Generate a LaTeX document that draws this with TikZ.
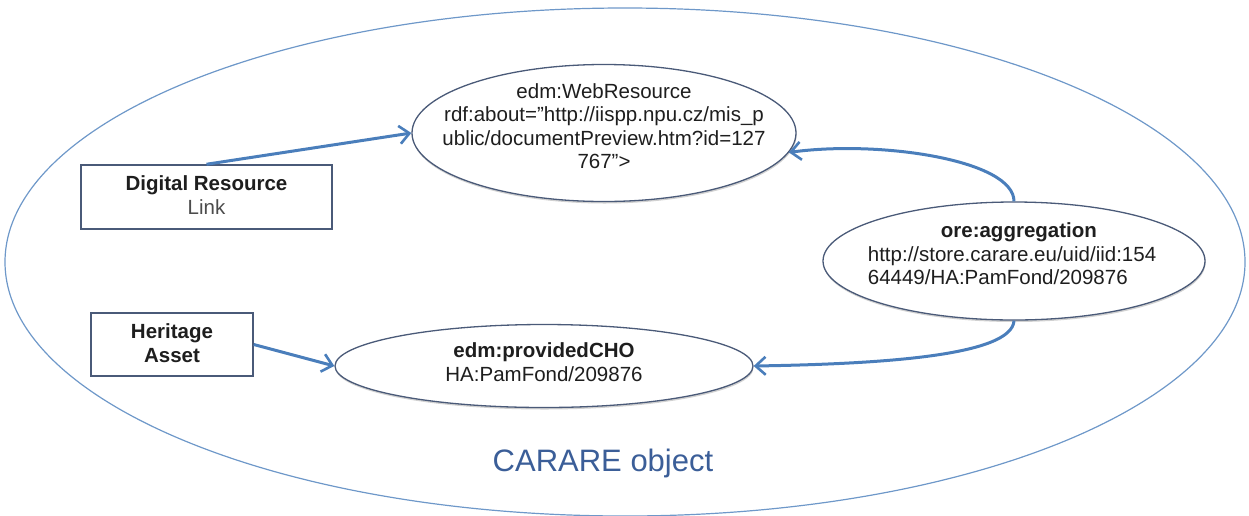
\documentclass[tikz,border=0pt]{standalone}
\usepackage{fontspec}
\setmainfont{Liberation Sans}
\usetikzlibrary{arrows.meta,shapes.geometric,shadows}
\definecolor{arrowblue}{HTML}{4A7EBB}
\definecolor{outline}{HTML}{4A5A78}
\definecolor{titleblue}{HTML}{3B5E98}
\definecolor{txt}{HTML}{1E1E1E}
\tikzset{
  elnode/.style={ellipse, draw=outline, line width=1.3pt, fill=white, inner sep=0pt,
    drop shadow={shadow xshift=0.5pt, shadow yshift=-2pt, opacity=0.18, fill=black}},
  boxnode/.style={rectangle, draw=outline, line width=1.5pt, fill=white, inner sep=0pt, align=center, text=txt},
  conn/.style={draw=arrowblue, line width=3pt, -{Straight Barb[length=10pt,width=18pt,line width=2.6pt]}},
  lbl/.style={font=\fontsize{20.5}{23.5}\selectfont, text=txt, align=center},
}
\begin{document}
\begin{tikzpicture}[x=1pt,y=-1pt]
\useasboundingbox (0,0) rectangle (1249,515);
% outer ellipse
\node[ellipse, draw=arrowblue!80, line width=1.2pt, minimum width=1240pt, minimum height=508pt, inner sep=0pt] (outer) at (625,262) {};
\node[font=\fontsize{31}{35}\selectfont, text=titleblue] (title) at (603,463) {CARARE object};
% ellipses
\node[elnode, minimum width=384pt, minimum height=137pt] (web) at (604,133) {};
\node[lbl] (webtxt) at (604,126) {edm:WebResource\\rdf:about="http://iispp.npu.cz/mis\_p\\ublic/documentPreview.htm?id=127\\767">};
\node[elnode, minimum width=382pt, minimum height=118pt] (agg) at (1014,261) {};
\node[lbl, align=left] (aggtxt) at (1012,254) {\hspace*{73pt}\textbf{ore:aggregation}\\http://store.carare.eu/uid/iid:154\\64449/HA:PamFond/209876};
\node[elnode, minimum width=418pt, minimum height=83pt] (cho) at (544,366) {};
\node[lbl] (chotxt) at (544,362) {\textbf{edm:providedCHO}\\HA:PamFond/209876};
% boxes
\node[boxnode, minimum width=251pt, minimum height=64pt] (drl) at (206.5,197) {};
\node[lbl] (drltxt) at (206.5,195) {\textbf{Digital Resource}\\{\color{black!70}Link}};
\node[boxnode, minimum width=162pt, minimum height=63pt] (ha) at (172,344.5) {};
\node[lbl] (hatxt) at (172,343) {\textbf{Heritage}\\\textbf{Asset}};
% connectors
\draw[conn] (drl.north) -- (web.west);
\draw[conn] (ha.east) -- (cho.west);
\draw[conn] (agg.north) .. controls (1014,160) and (880,140) .. (web.-6);
\draw[conn] (agg.south) .. controls (1012,356) and (880,364) .. (cho.east);
\end{tikzpicture}
\end{document}
